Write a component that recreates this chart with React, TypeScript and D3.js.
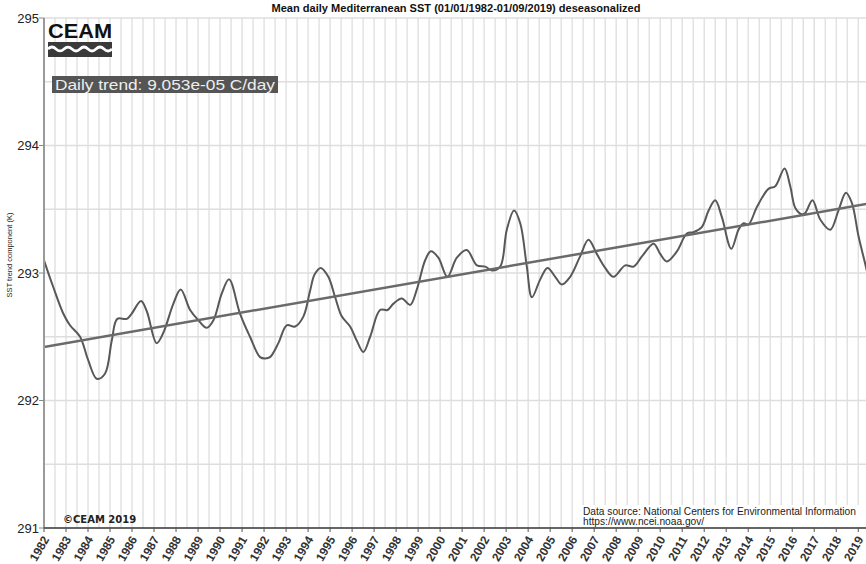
import * as d3 from 'd3'

// deseasonalized SST trend component (decimal year, K)
const sstYears = [
  1982.0, 1982.4, 1982.88, 1983.18, 1983.64, 1984.0, 1984.4, 1984.77, 1985.08, 1985.33,
  1985.76, 1985.98, 1986.41, 1986.67, 1987.12, 1987.42, 1987.88, 1988.21, 1988.64, 1989.01,
  1989.39, 1989.7, 1990.08, 1990.41, 1990.91, 1991.36, 1991.82, 1992.05, 1992.27, 1992.65,
  1993.03, 1993.41, 1993.79, 1994.09, 1994.3, 1994.58, 1994.92, 1995.23, 1995.53, 1995.91,
  1996.21, 1996.51, 1996.82, 1997.27, 1997.61, 1997.88, 1998.26, 1998.64, 1998.94, 1999.32,
  1999.58, 1999.92, 2000.33, 2000.76, 2001.21, 2001.67, 2002.05, 2002.35, 2002.73, 2003.03,
  2003.36, 2003.64, 2003.94, 2004.17, 2004.55, 2004.88, 2005.23, 2005.53, 2005.91, 2006.36,
  2006.74, 2007.12, 2007.5, 2007.88, 2008.41, 2008.79, 2009.17, 2009.7, 2010.0, 2010.3,
  2010.76, 2011.21, 2011.51, 2011.89, 2012.2, 2012.5, 2012.8, 2013.23, 2013.56, 2013.79,
  2014.01, 2014.4, 2014.92, 2015.23, 2015.65, 2015.91, 2016.14, 2016.44, 2016.59, 2016.92,
  2017.27, 2017.73, 2018.1, 2018.44, 2018.71, 2019.01, 2019.36, 2019.67,
]
const sstValues = [
  293.1, 292.9, 292.68, 292.59, 292.5, 292.32, 292.17, 292.21, 292.47, 292.64,
  292.64, 292.68, 292.78, 292.7, 292.45, 292.53, 292.76, 292.87, 292.71, 292.63,
  292.57, 292.63, 292.84, 292.95, 292.68, 292.5, 292.34, 292.33, 292.34, 292.45,
  292.59, 292.58, 292.66, 292.86, 292.99, 293.04, 292.97, 292.81, 292.66, 292.58,
  292.47, 292.38, 292.5, 292.71, 292.71, 292.76, 292.8, 292.75, 292.87, 293.1,
  293.17, 293.12, 292.97, 293.12, 293.18, 293.06, 293.05, 293.02, 293.05, 293.34,
  293.49, 293.39, 293.05, 292.81, 292.95, 293.04, 292.97, 292.91, 292.97, 293.13,
  293.26, 293.15, 293.04, 292.97, 293.06, 293.05, 293.13, 293.23, 293.15, 293.09,
  293.17, 293.31, 293.32, 293.36, 293.49, 293.57, 293.44, 293.19, 293.34, 293.39,
  293.38, 293.52, 293.66, 293.68, 293.82, 293.68, 293.51, 293.46, 293.47, 293.57,
  293.42, 293.34, 293.49, 293.63, 293.55, 293.29, 293.04, 292.8,
]

// linear trend end points
const trendYears = [1982.0, 2019.67]
const trendValues = [292.42, 293.55]

const yearTicks = d3.range(1982, 2020)
const valueTicks = [291, 292, 293, 294, 295]

const W = 866
const H = 564
const font = '"Liberation Sans", Arial, sans-serif'

export default function App() {
  const x = d3.scaleLinear().domain([1982, 2019.67]).range([44, 873])
  const y = d3.scaleLinear().domain([291, 295]).range([528, 18])

  const pts = sstYears.map((yr, i) => [yr, sstValues[i]] as [number, number])
  const line = d3
    .line<[number, number]>()
    .x((d) => x(d[0]))
    .y((d) => y(d[1]))
    .curve(d3.curveCatmullRom.alpha(0.5))

  const vGrid = d3.range(1982.5, 2020, 0.5)
  const hGrid = d3.range(291.5, 295.01, 0.5)

  return (
    <>
      <style>{'body{margin:0}'}</style>
      <svg width={W} height={H} style={{ display: 'block', background: '#fff' }}>
        <defs>
          <clipPath id="plot">
            <rect x={44} y={0} width={W - 44} height={528} />
          </clipPath>
        </defs>

        {/* grid */}
        {vGrid.map((g) => (
          <line key={'v' + g} x1={x(g)} x2={x(g)} y1={y(295)} y2={y(291)} stroke="#dedede" strokeWidth={1.3} />
        ))}
        {hGrid.map((g) => (
          <line key={'h' + g} x1={44} x2={W} y1={y(g)} y2={y(g)} stroke="#dedede" strokeWidth={1.3} />
        ))}

        {/* data source box */}
        <rect x={580} y={505} width={282} height={22} fill="#fff" />
        <text x={583} y={515} fontFamily={font} fontSize={10.2} fill="#222">
          Data source: National Centers for Environmental Information
        </text>
        <text x={583} y={525} fontFamily={font} fontSize={10.2} fill="#222">
          https://www.ncei.noaa.gov/
        </text>

        <text x={63} y={523} fontFamily='"DejaVu Sans", sans-serif' fontWeight="bold" fontSize={10} fill="#222">
          ©CEAM 2019
        </text>

        <g clipPath="url(#plot)">
          <path d={line(pts) || ''} fill="none" stroke="#585858" strokeWidth={2} />
          <line
            x1={x(trendYears[0])}
            x2={x(trendYears[1])}
            y1={y(trendValues[0])}
            y2={y(trendValues[1])}
            stroke="#6a6a6a"
            strokeWidth={2.5}
          />
        </g>

        {/* axes */}
        <line x1={44} x2={44} y1={18} y2={528} stroke="#9a9a9a" strokeWidth={2} />
        <line x1={44} x2={W} y1={528} y2={528} stroke="#333" strokeWidth={1.5} />
        {valueTicks.map((v) => (
          <g key={v}>
            <line x1={39} x2={44} y1={y(v)} y2={y(v)} stroke="#888" strokeWidth={1} />
            <text x={39} y={y(v)} dy="0.35em" textAnchor="end" fontFamily={font} fontSize={13} fill="#222">
              {v}
            </text>
          </g>
        ))}
        {yearTicks.map((yr) => (
          <g key={yr}>
            <line x1={x(yr)} x2={x(yr)} y1={528} y2={532} stroke="#555" strokeWidth={1} />
            <text
              transform={`translate(${x(yr) + 2},${537}) rotate(-60)`}
              dy="0.35em"
              textAnchor="end"
              fontFamily={font}
              fontWeight="bold"
              fontSize={12}
              fill="#333"
            >
              {yr}
            </text>
          </g>
        ))}

        <text
          transform="translate(12,255) rotate(-90)"
          textAnchor="middle"
          fontFamily={font}
          fontSize={7.5}
          fill="#222"
        >
          SST trend component (K)
        </text>

        <text
          x={456}
          y={12}
          textAnchor="middle"
          fontFamily={font}
          fontWeight="bold"
          fontSize={11.5}
          textLength={369}
          lengthAdjust="spacingAndGlyphs"
          fill="#111"
        >
          Mean daily Mediterranean SST (01/01/1982-01/09/2019) deseasonalized
        </text>

        {/* logo */}
        <text x={48} y={38} fontFamily={font} fontWeight="bold" fontSize={20} fill="#111" textLength={64} lengthAdjust="spacingAndGlyphs">
          CEAM
        </text>
        <rect x={48} y={42} width={64} height={15} fill="#3a3a3a" />
        <path
          d="M48,49 Q52,45 56,49 T64,49 T72,49 T80,49 T88,49 T96,49 T104,49 T112,49"
          fill="none"
          stroke="#fff"
          strokeWidth={2.6}
        />

        <rect x={52} y={76} width={226} height={17} fill="#555" />
        <text x={55} y={90} fontFamily={font} fontSize={15} fill="#eee" textLength={220} lengthAdjust="spacingAndGlyphs">
          Daily trend: 9.053e-05 C/day
        </text>
      </svg>
    </>
  )
}
